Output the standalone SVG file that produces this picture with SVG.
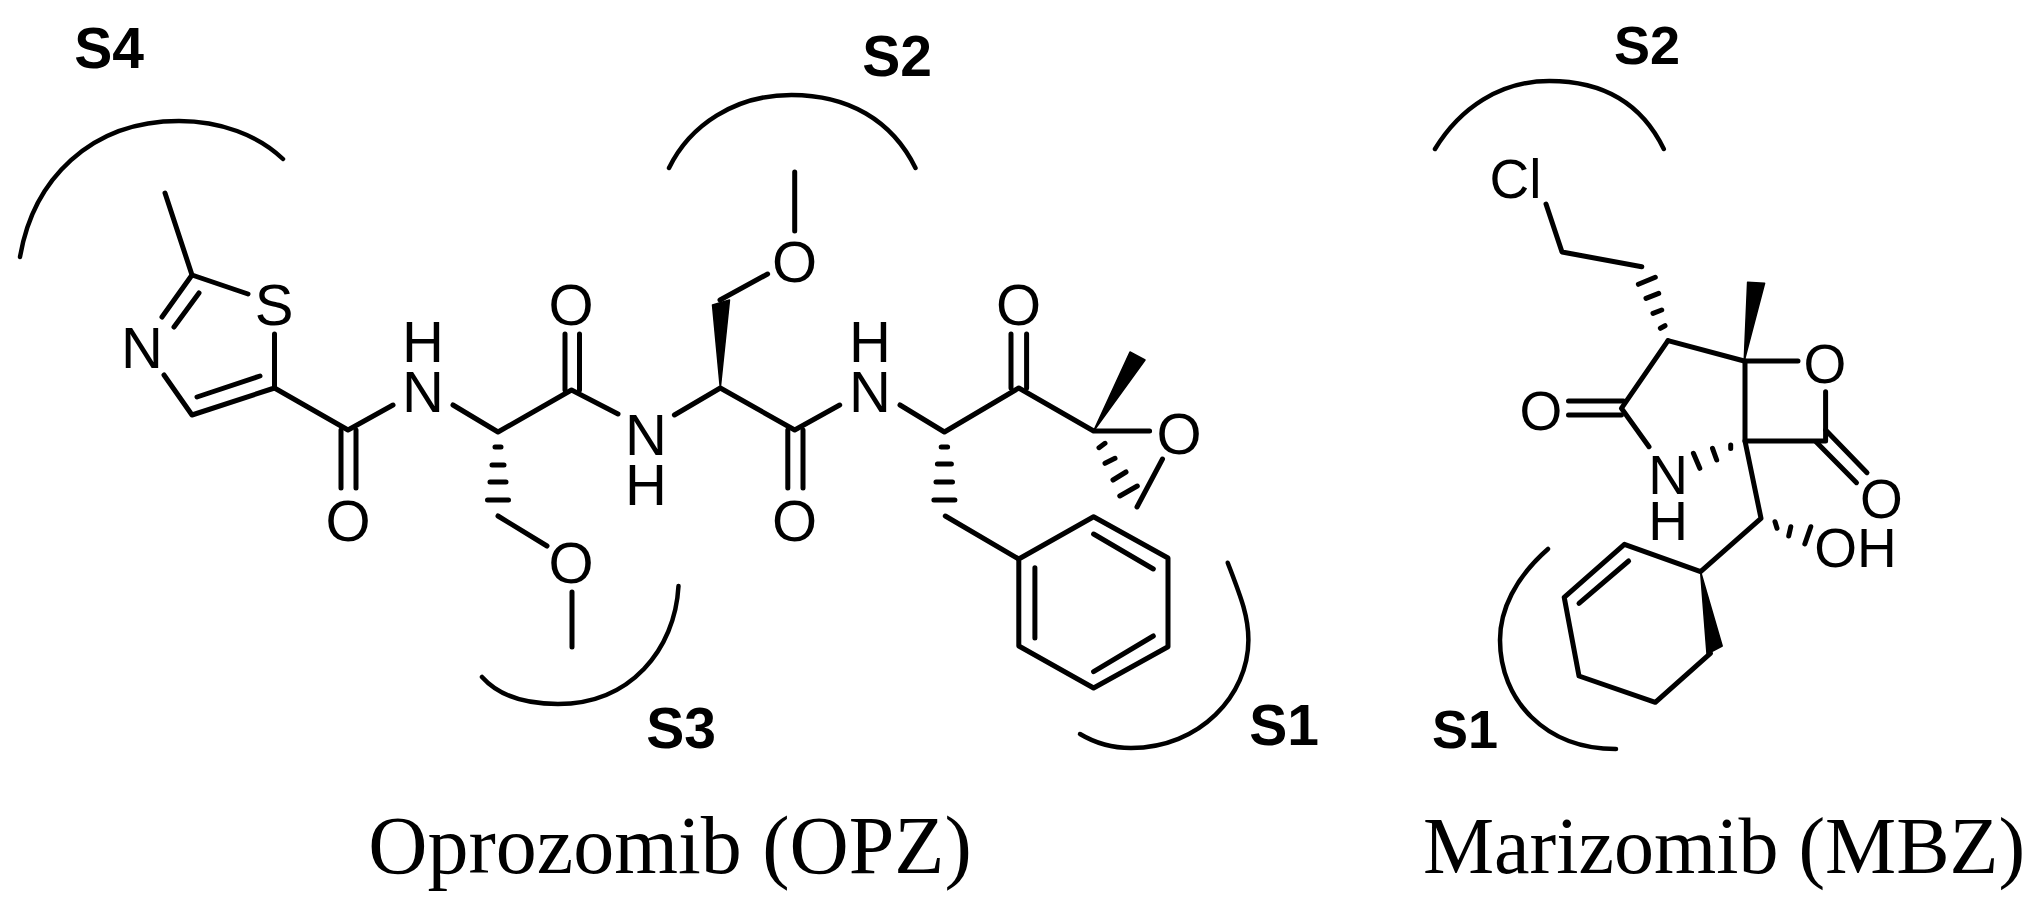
<svg xmlns="http://www.w3.org/2000/svg" width="2044" height="917" viewBox="0 0 2044 917">
<style>
.b{fill:none;stroke:#000;stroke-width:5;stroke-linecap:round;stroke-linejoin:round}
.h{fill:none;stroke:#000;stroke-width:5;stroke-linecap:round}
.a{fill:none;stroke:#000;stroke-width:4.500;stroke-linecap:round}
.w{fill:#000;stroke:#000;stroke-width:1.500;stroke-linejoin:round}
.t{font-family:"Liberation Sans",Arial,sans-serif;font-size:58px;fill:#000;text-anchor:middle}
.m{font-size:55px}
.l{font-family:"Liberation Sans",Arial,sans-serif;font-weight:bold;font-size:57px;fill:#000;text-anchor:middle}
.n{font-family:"Liberation Serif","Times New Roman",serif;font-size:82px;fill:#000;text-anchor:middle}
</style>
<rect width="2044" height="917" fill="#fff"/>
<g id="connectors">
<g id="opz-bonds" class="b">
<path d="M165 193L192 275L248 294"/>
<path d="M192 275L162 317M199 293L174 327"/>
<path d="M274.500 334V388L192 415L164 375M260 376L197 397"/>
<path d="M274.500 388L348 430L393 405"/>
<path d="M341 430V488M356 430V488"/>
<path d="M453 405L498 432L571.500 390L618 414"/>
<path d="M565 390V334M579.500 390V334"/>
<path d="M674.400 415L720.300 388L794.700 430L839.700 405"/>
<path d="M498 516L547 546M572 592V647"/>
<path d="M794.700 172V231M767.600 274L720 300"/>
<path d="M787.800 430V488M803 430V488"/>
<path d="M900 405L944.400 432L1018.800 388L1093.600 431H1149.600"/>
<path d="M1011 388V334M1026.600 388V334"/>
<path d="M1162.500 459L1137 507"/>
<path d="M945.300 516L1018.800 559"/>
<path d="M1018.800 559L1093.600 516.700L1168 558V646.700L1093.600 688L1018.800 646Z"/>
<path d="M1093.600 534L1153.300 569M1153.300 636L1093.600 671.700M1034.900 567.700V638"/>
</g>
<g id="opz-hashes" class="h">
<path d="M495 447H501M492 465H504M490 482H506M487.500 500H508.500"/>
<path d="M941.200 447H947.600M937.400 464H951.400M936 482H952.500M933.900 500H954.900"/>
<path d="M1099 447.700L1105 443.300M1105 463.300L1115 458.300M1113 480L1126 472M1119.800 496L1137.300 486"/>
</g>
<g id="opz-wedges" class="w">
<polygon points="720.300,388 712.500,305 729.500,300"/>
<polygon points="1093.600,431 1130,352 1145,360"/>
</g>
<g id="mbz-bonds" class="b">
<path d="M1546 204L1562 252L1641.800 266.700"/>
<path d="M1668 340.700L1744.200 361H1798"/>
<path d="M1668 340.700L1621.400 408.300L1649 446.700"/>
<path d="M1568.500 401H1623.500M1568.500 415H1621.400"/>
<path d="M1745 361V441H1825.600V391.700"/>
<path d="M1825.600 430L1867 472.700M1816 441.700L1856.500 482.700"/>
<path d="M1745 441L1761 518.300L1700.600 571.700L1624.400 544.300L1564.200 597.300L1579 676L1655.300 702.300L1710.400 653.300"/>
<path d="M1628.600 561L1579 603.300"/>
</g>
<g id="mbz-hashes" class="h">
<path d="M1638.400 284.300L1655.300 277.300M1646 298.300L1658.700 293.300M1653 313.300L1661.700 310M1660.400 328.300L1665 325.700"/>
<path d="M1730.700 445V448.500M1712.500 448.300L1716.700 460M1693.400 453.300L1699.800 468.300"/>
<path d="M1775 521.700L1777 528.300M1790.800 526.700L1788.700 536M1810.800 526.700L1804.800 544"/>
</g>
<g id="mbz-wedges" class="w">
<polygon points="1744.200,361 1747.600,282.300 1764.600,283.300"/>
<polygon points="1700.600,571.700 1722.200,646 1707,654"/>
</g>
</g>
<g id="pocket-arcs" class="a">
<path d="M20 257C33 180 90 121 179 121C220 121 258 135 283 159"/>
<path d="M669 168C690 125 735 95 791.500 95C848 95 892 120 915.500 168"/>
<path d="M678.500 586C675 650 630 704 558 704C525 704 498 695 482 677"/>
<path d="M1227.700 562.700C1240 595 1248.400 615 1248.400 640C1248.400 695 1200 748 1131 748C1112 748 1095 743 1080 734"/>
<path d="M1435 149C1460 108 1500 81 1549.400 81C1600 81 1640 100 1663.800 149"/>
<path d="M1548 549C1515 578 1500 610 1500 640C1500 700 1545 749 1616 749"/>
</g>
<g id="opz-atoms">
<g id="opz-n1"><text class="t" x="142" y="368">N</text></g>
<g id="opz-s"><text class="t" x="274" y="325">S</text></g>
<g id="opz-nh1"><text class="t" x="423" y="362">H<tspan x="423" y="412">N</tspan></text></g>
<g id="opz-o1"><text class="t" x="348" y="541">O</text></g>
<g id="opz-o2"><text class="t" x="571" y="325">O</text></g>
<g id="opz-nh2"><text class="t" x="646" y="455">N<tspan x="646" y="505">H</tspan></text></g>
<g id="opz-o3"><text class="t" x="571" y="583">O</text></g>
<g id="opz-o4"><text class="t" x="794.500" y="282">O</text></g>
<g id="opz-nh3"><text class="t" x="870" y="362">H<tspan x="870" y="412">N</tspan></text></g>
<g id="opz-o5"><text class="t" x="794.500" y="541">O</text></g>
<g id="opz-o6"><text class="t" x="1018.500" y="325">O</text></g>
<g id="opz-o7"><text class="t" x="1179" y="454">O</text></g>
</g>
<g id="mbz-atoms">
<g id="mbz-cl"><text class="t m" x="1515.500" y="198">Cl</text></g>
<g id="mbz-o1"><text class="t m" x="1541" y="430">O</text></g>
<g id="mbz-o2"><text class="t m" x="1825" y="383">O</text></g>
<g id="mbz-o3"><text class="t m" x="1881.500" y="518">O</text></g>
<g id="mbz-nh"><text class="t m" x="1668" y="494">N<tspan x="1668" y="540">H</tspan></text></g>
<g id="mbz-oh"><text class="t m" x="1855.500" y="567">OH</text></g>
</g>
<g id="pocket-labels">
<g id="label-s4"><text class="l" x="109" y="68">S4</text></g>
<g id="label-s2-opz"><text class="l" x="897" y="76">S2</text></g>
<g id="label-s3"><text class="l" x="681" y="748">S3</text></g>
<g id="label-s1-opz"><text class="l" x="1284" y="745">S1</text></g>
<g id="label-s2-mbz"><text class="l" style="font-size:54px" x="1647" y="64">S2</text></g>
<g id="label-s1-mbz"><text class="l" style="font-size:54px" x="1465" y="748">S1</text></g>
</g>
<g id="titles">
<g id="title-opz"><text class="n" x="670" y="873">Oprozomib (OPZ)</text></g>
<g id="title-mbz"><text class="n" style="font-size:80px" x="1724" y="873">Marizomib (MBZ)</text></g>
</g>
</svg>
